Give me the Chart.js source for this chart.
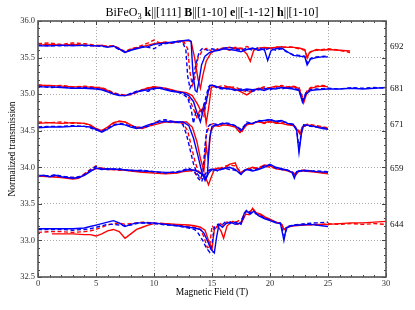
<!DOCTYPE html>
<html>
<head>
<meta charset="utf-8">
<script src="https://cdn.jsdelivr.net/npm/chart.js@4"></script>
<style>
body { margin:0; background:#fff; }
</style>
</head>
<body>
<canvas id="chart" width="415" height="310"></canvas>
<script>
// field (T), normalized transmission -- one array per trace
const blue692 = [[0,35.66],[1,35.66],[2,35.67],[3,35.66],[4,35.67],[5,35.66],[5.5,35.66],[6,35.64],[6.5,35.66],[7,35.62],[7.5,35.57],[8,35.6],[8.5,35.62],[9,35.64],[9.5,35.65],[10,35.68],[10.5,35.69],[11,35.7],[11.5,35.71],[12,35.72],[12.5,35.73],[13,35.74],[13.2,35.72],[13.35,35.3],[13.55,35.05],[13.7,35.03],[13.9,35.2],[14.1,35.4],[14.4,35.52],[14.8,35.57],[15.2,35.59],[15.6,35.6],[16,35.62],[16.5,35.61],[17,35.6],[17.5,35.58],[18,35.61],[18.5,35.63],[19,35.6],[19.5,35.62],[19.8,35.46],[20.1,35.6],[20.5,35.62],[21,35.63],[21.5,35.58],[22,35.53],[22.5,35.52],[23,35.51],[23.2,35.4],[23.5,35.48],[24,35.5],[24.5,35.51],[25,35.51]];
const blue692d = [[0,35.67],[1,35.66],[2,35.66],[3,35.67],[4,35.66],[5,35.66],[5.5,35.65],[6,35.65],[6.5,35.65],[7,35.61],[7.5,35.58],[8,35.6],[8.5,35.63],[9,35.65],[9.5,35.64],[10,35.62],[10.5,35.67],[11,35.69],[11.5,35.7],[12,35.71],[12.3,35.72],[12.5,35.7],[12.75,35.6],[12.9,35.25],[13.1,35.08],[13.3,35.15],[13.6,35.4],[13.9,35.58],[14.2,35.63],[14.6,35.6],[15,35.62],[15.5,35.6],[16,35.63],[16.5,35.64],[17,35.62],[17.5,35.6],[18,35.63],[18.5,35.6],[19,35.64],[19.5,35.6],[20,35.63],[20.5,35.6],[21,35.62],[21.5,35.57],[22,35.54],[22.5,35.53],[23,35.52],[23.2,35.43],[23.5,35.49],[24,35.51],[25,35.52]];
const red692 = [[0,35.67],[1,35.68],[2,35.67],[3,35.68],[4,35.67],[5,35.66],[5.5,35.67],[6,35.65],[6.5,35.66],[7,35.62],[7.5,35.57],[8,35.61],[8.5,35.63],[9,35.65],[9.5,35.67],[10,35.69],[10.5,35.7],[11,35.71],[11.5,35.7],[12,35.72],[12.5,35.73],[13,35.73],[13.2,35.72],[13.5,35.5],[13.8,35.2],[14,35.08],[14.2,35.25],[14.5,35.45],[14.9,35.56],[15.3,35.6],[16,35.62],[16.5,35.64],[17,35.62],[17.5,35.63],[18,35.55],[18.3,35.45],[18.6,35.6],[19,35.63],[19.5,35.64],[20,35.63],[20.5,35.64],[21,35.65],[21.5,35.64],[22,35.64],[22.5,35.63],[23,35.61],[23.2,35.49],[23.4,35.57],[24,35.61],[24.5,35.6],[25,35.61],[26,35.6],[26.9,35.59]];
const red692d = [[0,35.69],[1,35.7],[2,35.68],[3,35.7],[4,35.69],[5,35.67],[5.5,35.66],[6,35.66],[6.5,35.66],[7,35.63],[7.5,35.58],[8,35.62],[8.5,35.64],[9,35.67],[9.5,35.7],[10,35.74],[10.5,35.7],[11,35.71],[11.5,35.7],[12,35.72],[12.6,35.71],[12.9,35.62],[13.1,35.3],[13.3,35.12],[13.5,35.2],[13.8,35.5],[14.2,35.6],[14.6,35.63],[15,35.58],[15.5,35.62],[16,35.63],[16.5,35.6],[17,35.64],[17.5,35.62],[18,35.65],[18.5,35.62],[19,35.6],[19.5,35.63],[20,35.62],[20.5,35.65],[21,35.63],[21.5,35.65],[22,35.64],[22.5,35.62],[23,35.6],[23.2,35.52],[23.5,35.58],[24,35.6],[25,35.62],[26,35.6],[26.9,35.57]];

const blue681 = [[0,35.1],[1,35.1],[2,35.09],[3,35.08],[4,35.08],[5,35.07],[5.5,35.06],[6,35.03],[6.5,35],[7,34.98],[7.5,34.98],[8,35],[8.5,35.03],[9,35.05],[9.5,35.06],[10,35.08],[10.5,35.08],[11,35.06],[11.5,35.04],[12,35.03],[12.5,35.02],[13,34.98],[13.4,34.9],[13.7,34.75],[14,34.62],[14.2,34.75],[14.5,34.9],[14.8,35.12],[15.1,35.12],[15.5,35.1],[16,35.08],[16.5,35.07],[17,35.06],[17.5,35.05],[18,35.07],[18.5,35.06],[19,35.07],[19.5,35.05],[20,35.08],[20.5,35.07],[21,35.09],[21.5,35.08],[22,35.07],[22.5,35.05],[22.8,34.89],[23.1,35],[23.5,35.05],[24,35.06],[25,35.07],[26,35.07],[27,35.08],[28,35.07],[29,35.08],[30,35.09]];
const blue681d = [[0,35.11],[1,35.09],[2,35.1],[3,35.08],[4,35.09],[5,35.08],[5.5,35.06],[6,35.04],[6.5,35.01],[7,34.99],[7.5,34.98],[8,35.01],[8.5,35.04],[9,35.05],[9.5,35.04],[10,35.07],[10.5,35.09],[11,35.07],[11.5,35.05],[12,35.03],[12.5,35],[12.9,34.95],[13.2,34.8],[13.4,34.6],[13.6,34.75],[13.9,34.7],[14.3,34.85],[14.7,35.1],[15,35.13],[15.5,35.08],[16,35.07],[16.5,35.08],[17,35.05],[17.5,35.07],[18,35.05],[18.5,35.04],[19,35.06],[19.5,35.08],[20,35.06],[20.5,35.09],[21,35.07],[21.5,35.09],[22,35.08],[22.5,35.06],[22.8,34.92],[23.1,35.02],[23.5,35.06],[24,35.07],[25,35.08],[26,35.07],[27,35.09],[28,35.08],[29,35.09],[30,35.08]];
const red681 = [[0,35.12],[1,35.12],[2,35.11],[3,35.1],[4,35.1],[5,35.09],[5.5,35.08],[6,35.05],[6.5,35.01],[7,34.99],[7.5,34.98],[8,35],[8.5,35.03],[9,35.06],[9.5,35.08],[10,35.1],[10.5,35.09],[11,35.08],[11.5,35.06],[12,35.04],[12.8,35.02],[13.3,34.98],[13.8,34.85],[14.1,34.75],[14.3,34.85],[14.5,34.6],[14.7,34.8],[14.95,35.1],[15.3,35.1],[15.8,35.08],[16.5,35.1],[17,35.07],[17.5,35.03],[18,34.99],[18.5,35.04],[19,35.08],[19.5,35.07],[20,35.09],[20.5,35.11],[21,35.1],[21.5,35.09],[22,35.1],[22.5,35.08],[22.9,34.88],[23.2,35.03],[23.5,35.08],[24,35.1],[24.5,35.11],[25,35.1]];
const red681d = [[0,35.13],[1,35.11],[2,35.12],[3,35.1],[4,35.11],[5,35.09],[5.5,35.09],[6,35.06],[6.5,35.02],[7,35],[7.5,34.99],[8,34.99],[8.5,35.02],[9,35.06],[9.5,35.09],[10,35.1],[10.5,35.08],[11,35.07],[11.5,35.05],[12,35.03],[12.6,35.02],[13,34.95],[13.4,34.8],[13.7,34.68],[14,34.8],[14.3,34.7],[14.7,35.05],[15,35.12],[15.5,35.1],[16,35.12],[16.5,35.09],[17,35.1],[17.5,35.06],[18,35.03],[18.5,35.05],[19,35.07],[19.5,35.1],[20,35.08],[20.5,35.1],[21,35.12],[21.5,35.1],[22,35.11],[22.5,35.09],[22.9,34.92],[23.2,35.05],[23.5,35.09],[24,35.11],[24.5,35.12],[25,35.11]];

const blue671 = [[0,34.54],[1,34.55],[2,34.55],[3,34.56],[4,34.56],[4.5,34.55],[5,34.52],[5.5,34.48],[6,34.52],[6.5,34.57],[7,34.59],[7.5,34.58],[8,34.55],[8.5,34.53],[9,34.55],[9.5,34.58],[10,34.6],[10.5,34.62],[11,34.63],[11.5,34.62],[12,34.62],[12.5,34.62],[13,34.57],[13.4,34.4],[13.8,34.15],[14.1,33.95],[14.4,33.82],[14.6,33.9],[14.8,34.4],[15,34.56],[15.5,34.58],[16,34.6],[16.5,34.59],[17,34.57],[17.5,34.5],[17.8,34.56],[18,34.6],[18.5,34.6],[19,34.63],[19.5,34.64],[20,34.65],[20.5,34.63],[21,34.64],[21.5,34.6],[22,34.59],[22.3,34.5],[22.5,34.2],[22.7,34.45],[22.9,34.58],[23.5,34.57],[24,34.55],[24.5,34.53],[25,34.52]];
const blue671d = [[0,34.55],[1,34.56],[2,34.56],[3,34.57],[4,34.56],[4.5,34.54],[5,34.51],[5.5,34.49],[6,34.53],[6.5,34.58],[7,34.6],[7.5,34.59],[8,34.56],[8.5,34.55],[9,34.54],[9.5,34.56],[10,34.6],[10.5,34.64],[11,34.65],[11.5,34.63],[12,34.62],[12.5,34.58],[12.8,34.45],[13.1,34.25],[13.4,34.05],[13.7,33.92],[14,33.85],[14.2,33.9],[14.4,34.3],[14.6,34.55],[15,34.6],[15.5,34.58],[16,34.61],[16.5,34.6],[17,34.57],[17.5,34.52],[17.8,34.57],[18,34.62],[18.5,34.6],[19,34.64],[19.5,34.63],[20,34.66],[20.5,34.62],[21,34.63],[21.5,34.61],[22,34.58],[22.3,34.52],[22.5,34.25],[22.7,34.48],[22.9,34.57],[23.5,34.56],[24,34.55],[24.5,34.54],[25,34.53]];
const red671 = [[0,34.6],[1,34.61],[2,34.6],[3,34.61],[4,34.6],[4.5,34.58],[5,34.53],[5.5,34.5],[6,34.55],[6.5,34.61],[7,34.63],[7.5,34.62],[8,34.58],[8.5,34.54],[9,34.53],[9.5,34.56],[10,34.58],[10.5,34.6],[11,34.62],[11.5,34.63],[12,34.62],[12.8,34.62],[13.3,34.55],[13.7,34.35],[14,34.12],[14.3,33.95],[14.5,34.3],[14.65,34.12],[14.9,34.5],[15.2,34.57],[15.6,34.56],[16,34.58],[16.5,34.57],[17,34.55],[17.4,34.48],[17.7,34.52],[18,34.58],[18.5,34.6],[19,34.62],[19.5,34.61],[20,34.63],[20.5,34.6],[21,34.6],[21.5,34.58],[22,34.57],[22.4,34.5],[22.6,34.45],[22.8,34.55],[23.2,34.58],[24,34.56],[25,34.53]];
const red671d = [[0,34.62],[1,34.61],[2,34.62],[3,34.6],[4,34.6],[4.5,34.57],[5,34.52],[5.5,34.5],[6,34.54],[6.5,34.6],[7,34.63],[7.5,34.62],[8,34.57],[8.5,34.55],[9,34.54],[9.5,34.57],[10,34.61],[10.5,34.63],[11,34.62],[11.5,34.61],[12,34.61],[12.5,34.6],[12.9,34.5],[13.2,34.3],[13.5,34.1],[13.8,33.95],[14.1,33.88],[14.3,34],[14.5,34.45],[14.8,34.58],[15.2,34.6],[15.6,34.57],[16,34.6],[16.5,34.58],[17,34.56],[17.5,34.46],[17.8,34.55],[18,34.6],[18.5,34.59],[19,34.63],[19.5,34.6],[20,34.62],[20.5,34.61],[21,34.62],[21.5,34.59],[22,34.58],[22.4,34.52],[22.6,34.47],[22.8,34.56],[23.2,34.59],[24,34.57],[25,34.54]];

const blue659 = [[0,33.88],[0.5,33.89],[1,33.87],[1.5,33.89],[2,33.87],[2.5,33.86],[3,33.85],[3.5,33.86],[4,33.89],[4.5,33.94],[5,33.99],[5.5,33.97],[6,33.98],[7,33.97],[8,33.96],[9,33.95],[10,33.94],[11,33.93],[12,33.93],[12.5,33.95],[13,33.97],[13.5,33.96],[14,33.92],[14.3,33.88],[14.5,33.85],[14.7,33.92],[15,33.97],[15.5,33.96],[16,33.98],[16.5,34],[17,33.97],[17.5,33.9],[17.8,33.96],[18,33.97],[18.5,33.95],[19,33.97],[19.5,34],[20,34.04],[20.5,34],[21,33.98],[21.5,33.96],[21.9,33.93],[22.1,33.85],[22.3,33.94],[23,33.96],[24,33.94],[25,33.93]];
const blue659d = [[0,33.89],[1,33.88],[1.5,33.9],[2,33.88],[3,33.86],[3.5,33.87],[4,33.9],[4.5,33.96],[5,34.01],[5.5,33.98],[6,33.97],[7,33.98],[8,33.95],[9,33.96],[10,33.94],[11,33.92],[12,33.94],[12.5,33.96],[13,33.99],[13.5,33.94],[13.8,33.85],[14.1,33.8],[14.3,33.88],[14.6,33.95],[15,33.98],[15.5,33.95],[16,33.99],[16.5,33.97],[17,33.96],[17.5,33.91],[17.8,33.95],[18,33.98],[18.5,33.96],[19,33.98],[19.5,34.02],[20,34.03],[20.5,33.99],[21,33.97],[21.5,33.96],[21.9,33.94],[22.1,33.87],[22.3,33.95],[23,33.95],[24,33.95],[25,33.94]];
const red659 = [[0,33.88],[1,33.87],[2,33.86],[2.5,33.85],[3,33.84],[3.5,33.85],[4,33.9],[4.5,33.95],[5,33.98],[5.5,33.99],[6,33.97],[7,33.97],[8,33.95],[9,33.93],[10,33.92],[11,33.91],[12,33.92],[12.5,33.94],[13,33.95],[13.5,33.96],[14,33.93],[14.4,33.88],[14.7,33.76],[14.9,33.85],[15.2,33.97],[15.5,33.99],[16,33.98],[16.5,34.04],[17,34.06],[17.2,33.98],[17.5,33.92],[18,33.97],[18.5,34],[19,33.98],[19.5,34.03],[20,34.02],[20.5,33.98],[21,33.97],[21.5,33.95],[22,33.92],[22.2,33.89],[22.5,33.95],[23,33.95],[24,33.93],[25,33.91]];
const red659d = [[0,33.89],[1,33.88],[2,33.87],[3,33.86],[3.5,33.86],[4,33.91],[4.5,33.97],[5,34.02],[5.5,33.97],[6,33.98],[7,33.96],[8,33.96],[9,33.94],[10,33.93],[11,33.92],[12,33.93],[12.5,33.95],[13,33.97],[13.5,33.93],[13.9,33.86],[14.2,33.84],[14.5,33.93],[15,33.98],[15.5,33.97],[16,34.01],[16.5,34.03],[17,34.02],[17.5,33.93],[18,33.98],[18.5,33.98],[19,34],[19.5,34.02],[20,34],[20.5,33.99],[21,33.98],[21.5,33.96],[22,33.93],[22.2,33.9],[22.5,33.96],[23,33.96],[24,33.94],[25,33.92]];

const blue644 = [[0,33.16],[1,33.16],[2,33.16],[3,33.16],[4,33.17],[4.5,33.19],[5,33.21],[5.5,33.23],[6,33.25],[6.5,33.27],[7,33.24],[7.5,33.19],[8,33.22],[8.5,33.24],[9,33.24],[10,33.24],[11,33.22],[12,33.2],[13,33.18],[13.5,33.17],[14,33.15],[14.3,33.1],[14.6,33],[14.9,32.88],[15.2,32.83],[15.4,33.05],[15.6,33.22],[15.9,33.18],[16.2,33.23],[16.6,33.25],[17,33.22],[17.5,33.24],[17.8,33.38],[18,33.4],[18.3,33.36],[18.6,33.4],[19,33.34],[19.5,33.3],[20,33.27],[20.5,33.24],[20.9,33.23],[21.1,33.08],[21.2,33],[21.4,33.17],[21.8,33.2],[22.5,33.21],[23.5,33.22],[25,33.19]];
const blue644d = [[0,33.15],[1,33.15],[2,33.15],[3,33.14],[4,33.15],[4.5,33.16],[5,33.18],[5.5,33.2],[6,33.22],[6.5,33.22],[7,33.21],[7.5,33.2],[8,33.21],[8.5,33.23],[9,33.24],[10,33.23],[11,33.21],[12,33.2],[13,33.17],[13.5,33.15],[13.8,33.1],[14.2,33],[14.5,32.9],[14.8,32.84],[15,32.95],[15.2,33.18],[15.5,33.22],[15.8,33.2],[16.2,33.26],[16.6,33.23],[17,33.25],[17.5,33.22],[17.8,33.35],[18,33.42],[18.3,33.38],[18.7,33.37],[19,33.35],[19.5,33.31],[20,33.28],[20.5,33.25],[20.9,33.24],[21.1,33.12],[21.25,33.06],[21.5,33.19],[22,33.21],[23,33.23],[24,33.24],[25,33.25]];
const red644 = [[1.2,33.09],[2,33.09],[3,33.09],[4,33.08],[4.5,33.08],[5,33.06],[5.5,33.09],[6,33.13],[6.5,33.15],[7,33.12],[7.5,33.03],[8,33.09],[8.5,33.15],[9,33.18],[9.5,33.21],[10,33.23],[11,33.23],[12,33.22],[13,33.21],[13.5,33.2],[14,33.18],[14.4,33.14],[14.7,33],[15,32.88],[15.2,33.15],[15.5,33.2],[15.8,33.12],[16,33.03],[16.3,33.2],[16.8,33.26],[17.2,33.22],[17.6,33.26],[17.9,33.36],[18.2,33.35],[18.5,33.44],[18.8,33.38],[19.2,33.36],[19.6,33.32],[20,33.29],[20.5,33.25],[21,33.22],[21.2,33.15],[21.5,33.18],[22,33.2],[23,33.21],[24,33.22],[25,33.22],[26,33.23],[27,33.24],[28,33.24],[29,33.25],[30,33.26]];
const red644d = [[0,33.11],[1,33.12],[2,33.12],[3,33.11],[4,33.12],[4.5,33.13],[5,33.15],[5.5,33.18],[6,33.21],[6.5,33.23],[7,33.24],[7.5,33.22],[8,33.23],[8.5,33.24],[9,33.25],[10,33.24],[11,33.23],[12,33.21],[13,33.19],[13.5,33.18],[14,33.15],[14.3,33.05],[14.6,32.9],[14.8,32.92],[15,33.2],[15.3,33.15],[15.6,33.24],[16,33.2],[16.4,33.27],[16.8,33.24],[17.2,33.26],[17.6,33.3],[17.9,33.4],[18.2,33.38],[18.5,33.43],[18.9,33.36],[19.3,33.34],[19.7,33.3],[20.1,33.27],[20.5,33.25],[21,33.23],[21.2,33.14],[21.5,33.19],[22,33.2],[23,33.22],[24,33.21],[25,33.23],[26,33.22],[27,33.23],[28,33.22],[29,33.23],[30,33.22]];

const waveLabels = ['692', '681', '671', '659', '644'];
const waveLabelY = [35.65, 35.08, 34.58, 33.98, 33.22];
const xTicks = [0, 5, 10, 15, 20, 25, 30];
const yTicks = [32.5, 33.0, 33.5, 34.0, 34.5, 35.0, 35.5, 36.0];

const FONT = "'Liberation Serif', 'DejaVu Serif', serif";

function trace(pts, color, dashed) {
	return {
		data: pts.map(p => ({x: p[0], y: p[1]})),
		borderColor: color,
		borderWidth: 1.4,
		borderDash: dashed ? [4, 2.5] : [],
		pointRadius: 0,
		tension: 0,
		fill: false
	};
}

// blue first so it ends up drawn on top
const datasets = [
	trace(blue692, '#0000ff', false), trace(blue692d, '#0000ff', true),
	trace(blue681, '#0000ff', false), trace(blue681d, '#0000ff', true),
	trace(blue671, '#0000ff', false), trace(blue671d, '#0000ff', true),
	trace(blue659, '#0000ff', false), trace(blue659d, '#0000ff', true),
	trace(blue644, '#0000ff', false), trace(blue644d, '#0000ff', true),
	trace(red692, '#ff0000', false), trace(red692d, '#ff0000', true),
	trace(red681, '#ff0000', false), trace(red681d, '#ff0000', true),
	trace(red671, '#ff0000', false), trace(red671d, '#ff0000', true),
	trace(red659, '#ff0000', false), trace(red659d, '#ff0000', true),
	trace(red644, '#ff0000', false), trace(red644d, '#ff0000', true)
];

const titleParts = [
	{t: 'BiFeO', b: false}, {t: '3', sub: true}, {t: ' ', b: false},
	{t: 'k', b: true}, {t: '||[111] ', b: false},
	{t: 'B', b: true}, {t: '||[1-10] ', b: false},
	{t: 'e', b: true}, {t: '||[-1-12] ', b: false},
	{t: 'h', b: true}, {t: '||[1-10]', b: false}
];

const decor = {
	id: 'decor',
	afterDatasetsDraw(chart) {
		const ctx = chart.ctx;
		const a = chart.chartArea;
		const xs = chart.scales.x, ys = chart.scales.y;
		ctx.save();
		ctx.strokeStyle = '#444';
		ctx.lineWidth = 1;
		ctx.beginPath();
		for (let i = 0; i <= 30; i++) {
			const px = Math.round(xs.getPixelForValue(i)) + 0.5;
			const len = i % 5 === 0 ? 4 : 2;
			ctx.moveTo(px, a.bottom); ctx.lineTo(px, a.bottom - len);
			ctx.moveTo(px, a.top); ctx.lineTo(px, a.top + len);
		}
		for (let i = 0; i <= 35; i++) {
			const py = Math.round(ys.getPixelForValue(32.5 + i * 0.1)) + 0.5;
			const len = i % 5 === 0 ? 4 : 2;
			ctx.moveTo(a.left, py); ctx.lineTo(a.left + len, py);
			ctx.moveTo(a.right, py); ctx.lineTo(a.right - len, py);
		}
		ctx.stroke();
		ctx.lineWidth = 1.6;
		ctx.strokeStyle = '#555';
		ctx.strokeRect(a.left, a.top, a.right - a.left, a.bottom - a.top);

		// wavelength labels at the right
		ctx.fillStyle = '#111';
		ctx.font = '9px ' + FONT;
		ctx.textAlign = 'left';
		ctx.textBaseline = 'middle';
		for (let i = 0; i < waveLabels.length; i++) {
			ctx.fillText(waveLabels[i], a.right + 4, ys.getPixelForValue(waveLabelY[i]));
		}

		// title with bold vectors and subscript
		const size = 12;
		let w = 0;
		for (const p of titleParts) {
			ctx.font = (p.b ? 'bold ' : '') + (p.sub ? size * 0.7 : size) + 'px ' + FONT;
			p.w = ctx.measureText(p.t).width;
			w += p.w;
		}
		let x = (a.left + a.right) / 2 - w / 2;
		ctx.textBaseline = 'alphabetic';
		ctx.fillStyle = '#000';
		for (const p of titleParts) {
			ctx.font = (p.b ? 'bold ' : '') + (p.sub ? size * 0.7 : size) + 'px ' + FONT;
			ctx.fillText(p.t, x, p.sub ? 18.5 : 16);
			x += p.w;
		}
		ctx.restore();
	}
};

new Chart(document.getElementById('chart'), {
	type: 'line',
	data: { datasets: datasets },
	options: {
		responsive: false,
		animation: false,
		events: [],
		layout: { padding: { top: 21, right: 29, left: 0, bottom: 0 } },
		plugins: { legend: { display: false }, tooltip: { enabled: false } },
		scales: {
			x: {
				type: 'linear', min: 0, max: 30,
				afterFit: s => { s.height = 33; },
				afterBuildTicks: s => { s.ticks = xTicks.map(v => ({value: v})); },
				ticks: { color: '#333', font: { family: FONT, size: 8.5 }, padding: 2, maxRotation: 0,
					callback: v => String(v) },
				grid: { color: '#aaa', lineWidth: 1, drawTicks: false },
				border: { display: false, dash: [1, 2] },
				title: { display: true, text: 'Magnetic Field (T)', color: '#000',
					font: { family: FONT, size: 9.5 }, padding: { top: 0, bottom: 12 } }
			},
			y: {
				type: 'linear', min: 32.5, max: 36,
				afterFit: s => { s.width = 38; },
				afterBuildTicks: s => { s.ticks = yTicks.map(v => ({value: v})); },
				ticks: { color: '#333', font: { family: FONT, size: 8.5 }, padding: 3,
					callback: v => v.toFixed(1) },
				grid: { color: '#aaa', lineWidth: 1, drawTicks: false },
				border: { display: false, dash: [1, 2] },
				title: { display: true, text: 'Normalized transmission', color: '#000',
					font: { family: FONT, size: 9.5 }, padding: { top: 7, bottom: 0 } }
			}
		}
	},
	plugins: [decor]
});
</script>
</body>
</html>
